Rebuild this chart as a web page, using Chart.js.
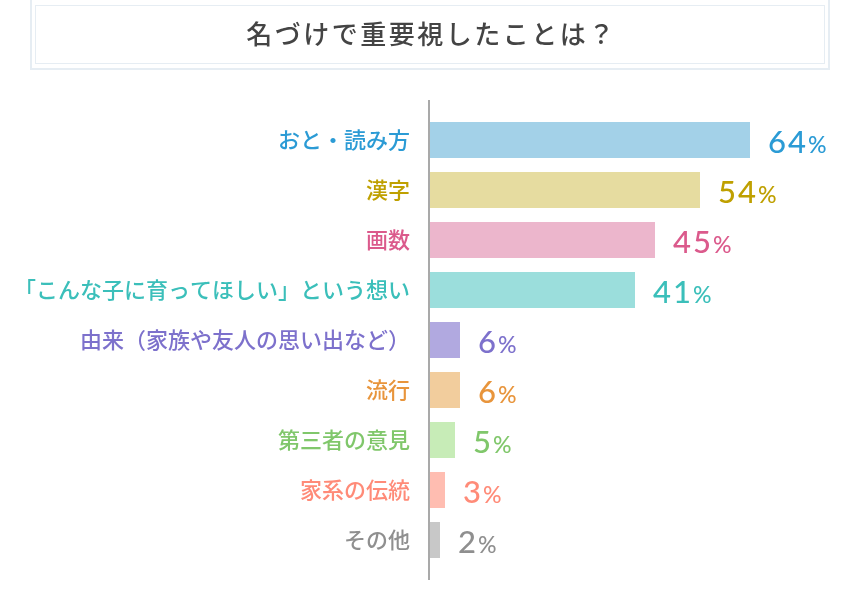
<!DOCTYPE html>
<html>
<head>
<meta charset="utf-8">
<script src="https://cdn.jsdelivr.net/npm/chart.js@4"></script>
<style>
  body { margin: 0; background: #fff; }
  #wrap { position: relative; width: 860px; height: 600px; }
  #chart { position: absolute; left: 0; top: 0; }
  .titlebox {
    position: absolute; left: 30px; top: -2px; width: 796px; height: 68px;
    border: 2px solid #e6edf3;
  }
  .titlebox .inner {
    position: absolute; left: 3px; top: 5px; right: 3px; bottom: 4px;
    border: 1px solid #e6edf3;
    display: flex; align-items: center; justify-content: center;
    font-family: "Noto Sans CJK JP", sans-serif; font-size: 26px; font-weight: 500;
    letter-spacing: 2.5px; color: #444; padding-left: 3px; padding-bottom: 4px;
  }
</style>
</head>
<body>
<div id="wrap">
  <canvas id="chart" width="860" height="600"></canvas>
  <div class="titlebox"><div class="inner">名づけで重要視したことは？</div></div>
</div>
<script>
var categories = ['おと・読み方', '漢字', '画数', '「こんな子に育ってほしい」という想い',
  '由来（家族や友人の思い出など）', '流行', '第三者の意見', '家系の伝統', 'その他'];
var values = [64, 54, 45, 41, 6, 6, 5, 3, 2];
var barColors = ['#a3d1e8', '#e6dca0', '#ecb6cc', '#9bdedc', '#b1a9e0', '#f2cd9d', '#c7ecb7', '#ffbdb1', '#c8c8c8'];
var textColors = ['#2b9bd5', '#bfa000', '#db5a8c', '#3bbfba', '#7d71cc', '#e8953c', '#80c76b', '#ff8b78', '#8f8f8f'];

// vertical axis line, a bit longer than the plot area
var axisLine = {
  id: 'axisLine',
  afterDraw: function(chart) {
    var ctx = chart.ctx, a = chart.chartArea;
    ctx.save();
    ctx.strokeStyle = '#a9a9a9';
    ctx.lineWidth = 2;
    ctx.beginPath();
    ctx.moveTo(a.left - 1, a.top - 15);
    ctx.lineTo(a.left - 1, a.bottom + 15);
    ctx.stroke();
    ctx.restore();
  }
};

// "64%" labels: big number, small percent sign
var valueLabels = {
  id: 'valueLabels',
  afterDatasetsDraw: function(chart) {
    var ctx = chart.ctx;
    var meta = chart.getDatasetMeta(0);
    ctx.save();
    meta.data.forEach(function(bar, i) {
      var x = bar.x + 18, y = bar.y + 13;
      var num = String(values[i]);
      ctx.fillStyle = textColors[i];
      ctx.textAlign = 'left';
      ctx.textBaseline = 'alphabetic';
      ctx.font = '500 31px Lato';
      ctx.letterSpacing = '2px';
      ctx.fillText(num, x, y);
      var w = ctx.measureText(num).width;
      ctx.font = '500 23px Lato';
      ctx.letterSpacing = '0px';
      ctx.fillText('%', x + w, y);
    });
    ctx.restore();
  }
};

new Chart(document.getElementById('chart'), {
  type: 'bar',
  data: {
    labels: categories,
    datasets: [{
      data: values,
      backgroundColor: barColors,
      borderWidth: 0,
      barPercentage: 0.72,
      categoryPercentage: 1
    }]
  },
  options: {
    indexAxis: 'y',
    responsive: false,
    animation: false,
    layout: { padding: { top: 115, bottom: 35, left: 0, right: 0 } },
    plugins: {
      legend: { display: false },
      tooltip: { enabled: false }
    },
    scales: {
      x: { display: false, min: 0, max: 86 },
      y: {
        afterFit: function(scale) { scale.width = 430; },
        border: { display: false },
        grid: { display: false, drawTicks: false },
        ticks: {
          padding: 20,
          color: function(c) { return textColors[c.index]; },
          font: { family: '"Noto Sans CJK JP"', size: 22, weight: 500 }
        }
      }
    }
  },
  plugins: [axisLine, valueLabels]
});
</script>
</body>
</html>
